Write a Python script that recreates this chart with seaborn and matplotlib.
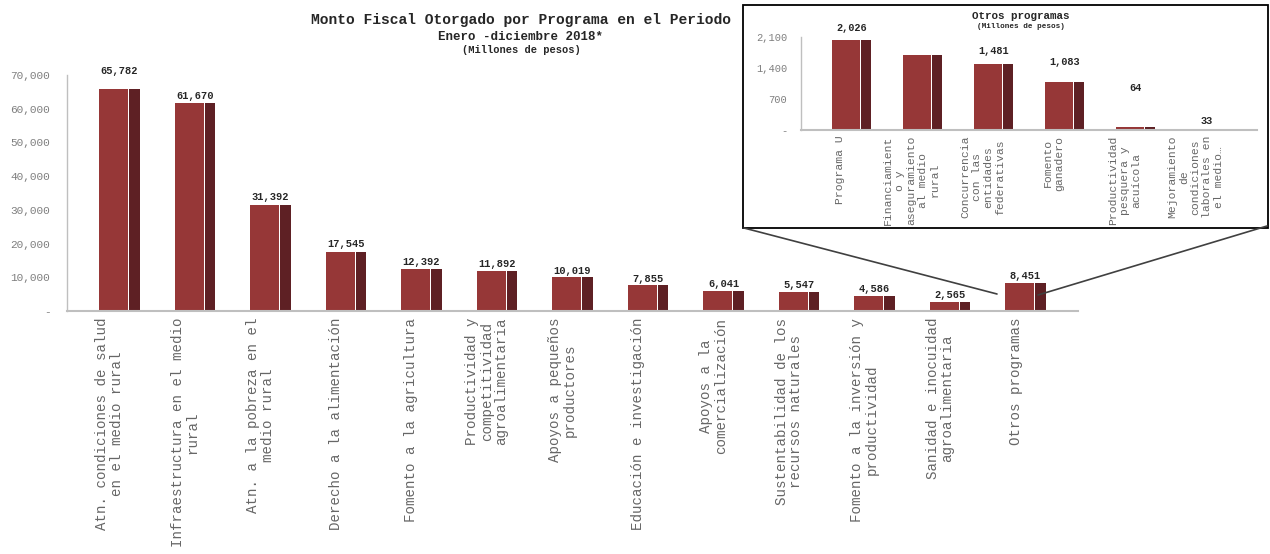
import matplotlib
matplotlib.use("Agg")
import matplotlib.pyplot as plt
import seaborn as sns
import numpy as np
import pandas as pd
from matplotlib.patches import Rectangle
from matplotlib.lines import Line2D
from matplotlib.ticker import FuncFormatter, FixedLocator
from matplotlib.transforms import ScaledTranslation

# ---------------- data ----------------
programas = [
    "Atn. condiciones de salud\nen el medio rural",
    "Infraestructura en el medio\nrural",
    "Atn. a la pobreza en el\nmedio rural",
    "Derecho a la alimentación",
    "Fomento a la agricultura",
    "Productividad y\ncompetitividad\nagroalimentaria",
    "Apoyos a pequeños\nproductores",
    "Educación e investigación",
    "Apoyos a la\ncomercialización",
    "Sustentabilidad de los\nrecursos naturales",
    "Fomento a la inversión y\nproductividad",
    "Sanidad e inocuidad\nagroalimentaria",
    "Otros programas",
]
montos = [65782, 61670, 31392, 17545, 12392, 11892, 10019, 7855, 6041, 5547, 4586, 2565, 8451]

otros_programas = [
    "Programa U",
    "Financiamient\no y\naseguramiento\nal medio\nrural",
    "Concurrencia\ncon las\nentidades\nfederativas",
    "Fomento\nganadero",
    "Productividad\npesquera y\nacuícola",
    "Mejoramiento\nde\ncondiciones\nlaborales en\nel medio…",
]
otros_montos = [2026, 1700, 1481, 1083, 64, 33]
otros_mostrar = [True, False, True, True, True, True]

main_yticks = [0, 10000, 20000, 30000, 40000, 50000, 60000, 70000]
inset_yticks = [0, 700, 1400, 2100]

# label offsets (pixels above bar top) - styling only
main_label_off = [13, 2, 3, 3, 2, 2, 1, 1, 2, 2, 2, 2, 2]
inset_label_off = [12, 0, 13, 20, 39, 8]

# ---------------- style ----------------
sns.set_theme(style="white")
plt.rcParams['font.family'] = ['Liberation Mono', 'DejaVu Sans Mono']

FACE = "#963737"
SIDE = "#5e2024"
W, H = 1270, 554


def fx(px):
    return px / W


def fy(py):
    return 1 - py / H


def draw_bars(ax, cats, vals, face_w, side_w, gap):
    df = pd.DataFrame({"cat": cats, "val": vals})
    sns.barplot(data=df, x="cat", y="val", order=cats, color=FACE, width=face_w,
                saturation=1, ax=ax, linewidth=0, errorbar=None)
    total = face_w + gap + side_w
    shift = -total / 2 + face_w / 2
    for p in ax.patches:
        p.set_x(p.get_x() + shift)
    xs = np.arange(len(cats)) - total / 2 + face_w + gap + side_w / 2
    ax.bar(xs, vals, width=side_w, color=SIDE, linewidth=0)


def fmt(v, pos=None):
    return "-" if v == 0 else f"{v:,.0f}"


fig = plt.figure(figsize=(12.7, 5.54), dpi=100)

# ---------------- main chart ----------------
ax = fig.add_axes([fx(67), fy(311), fx(1078 - 67), (311 - 75) / H])
ax.set_facecolor("none")
draw_bars(ax, programas, montos, 0.385, 0.14, 0.012)
ax.set_xlim(-0.695, len(programas) - 1 + 0.695)
ax.set_ylim(0, 70000)
ax.yaxis.set_major_locator(FixedLocator(main_yticks))
ax.yaxis.set_major_formatter(FuncFormatter(fmt))
ax.set_xlabel("")
ax.set_ylabel("")
for s in ["top", "right"]:
    ax.spines[s].set_visible(False)
ax.spines["left"].set_color("#bfbfbf")
ax.spines["left"].set_linewidth(1.0)
ax.spines["bottom"].set_color("#bfbfbf")
ax.spines["bottom"].set_linewidth(1.5)
ax.tick_params(axis="y", length=0, pad=12, labelsize=8, labelcolor="#7f7f7f")
ax.tick_params(axis="x", length=0, pad=5)
ax.set_xticks(range(len(programas)))
ax.set_xticklabels(programas, rotation=90, ha="center", va="top", ma="center",
                   fontsize=10.2, color="#666666", linespacing=1.05)
shift_lbl = ScaledTranslation(-10 / 100, 0, fig.dpi_scale_trans)
for lbl in ax.get_xticklabels():
    lbl.set_transform(lbl.get_transform() + shift_lbl)

for i, v in enumerate(montos):
    ax.annotate(f"{v:,}", (i, v), xytext=(0, main_label_off[i] * 0.72),
                textcoords="offset points", ha="center", va="bottom",
                fontsize=7.5, fontweight="bold", color="#262626")

# ---------------- titles ----------------
fig.text(fx(521), fy(20), "Monto Fiscal Otorgado por Programa en el Periodo",
         ha="center", va="center", fontsize=10.5, fontweight="bold", color="#262626")
fig.text(fx(521), fy(37), "Enero -diciembre 2018*",
         ha="center", va="center", fontsize=9, fontweight="bold", color="#262626")
fig.text(fx(521), fy(50), "(Millones de pesos)",
         ha="center", va="center", fontsize=7.5, fontweight="bold", color="#262626")

# ---------------- inset ----------------
fig.add_artist(Rectangle((fx(743), fy(228)), fx(1268 - 743), (228 - 5) / H,
                         transform=fig.transFigure, fill=True, facecolor="white",
                         edgecolor="black", linewidth=1.3, zorder=1))

iax = fig.add_axes([fx(801), fy(130), fx(456), 93 / H], zorder=3)
iax.set_facecolor("none")
draw_bars(iax, otros_programas, otros_montos, 0.394, 0.14, 0.015)
iax.set_xlim(-0.71, len(otros_programas) - 1 + 0.71)
iax.set_ylim(0, 2100)
iax.yaxis.set_major_locator(FixedLocator(inset_yticks))
iax.yaxis.set_major_formatter(FuncFormatter(fmt))
iax.set_xlabel("")
iax.set_ylabel("")
for s in ["top", "right"]:
    iax.spines[s].set_visible(False)
iax.spines["left"].set_color("#bfbfbf")
iax.spines["left"].set_linewidth(1.0)
iax.spines["bottom"].set_color("#bfbfbf")
iax.spines["bottom"].set_linewidth(1.5)
iax.tick_params(axis="y", length=0, pad=10, labelsize=7.5, labelcolor="#7f7f7f")
iax.tick_params(axis="x", length=0, pad=4)
iax.set_xticks(range(len(otros_programas)))
iax.set_xticklabels(otros_programas, rotation=90, ha="center", va="top", ma="center",
                    fontsize=8.2, color="#666666", linespacing=1.2)
shift_ilbl = ScaledTranslation(-11 / 100, 0, fig.dpi_scale_trans)
for lbl in iax.get_xticklabels():
    lbl.set_transform(lbl.get_transform() + shift_ilbl)
for i, v in enumerate(otros_montos):
    if otros_mostrar[i]:
        iax.annotate(f"{v:,}", (i, v), xytext=(0, inset_label_off[i] * 0.72),
                     textcoords="offset points", ha="center", va="center",
                     fontsize=7.4, fontweight="bold", color="#262626")

fig.text(fx(1021), fy(16), "Otros programas", ha="center", va="center",
         fontsize=7.8, fontweight="bold", color="#262626", zorder=4)
fig.text(fx(1021), fy(27), "(Millones de pesos)", ha="center", va="center",
         fontsize=5.5, fontweight="bold", color="#262626", zorder=4)

# connector lines
fig.add_artist(Line2D([fx(744), fx(997)], [fy(228), fy(294)], transform=fig.transFigure,
                      color="#404040", linewidth=1.2, zorder=2))
fig.add_artist(Line2D([fx(1267), fx(1038)], [fy(226), fy(295)], transform=fig.transFigure,
                      color="#404040", linewidth=1.2, zorder=2))

fig.savefig("out.png", dpi=100)
